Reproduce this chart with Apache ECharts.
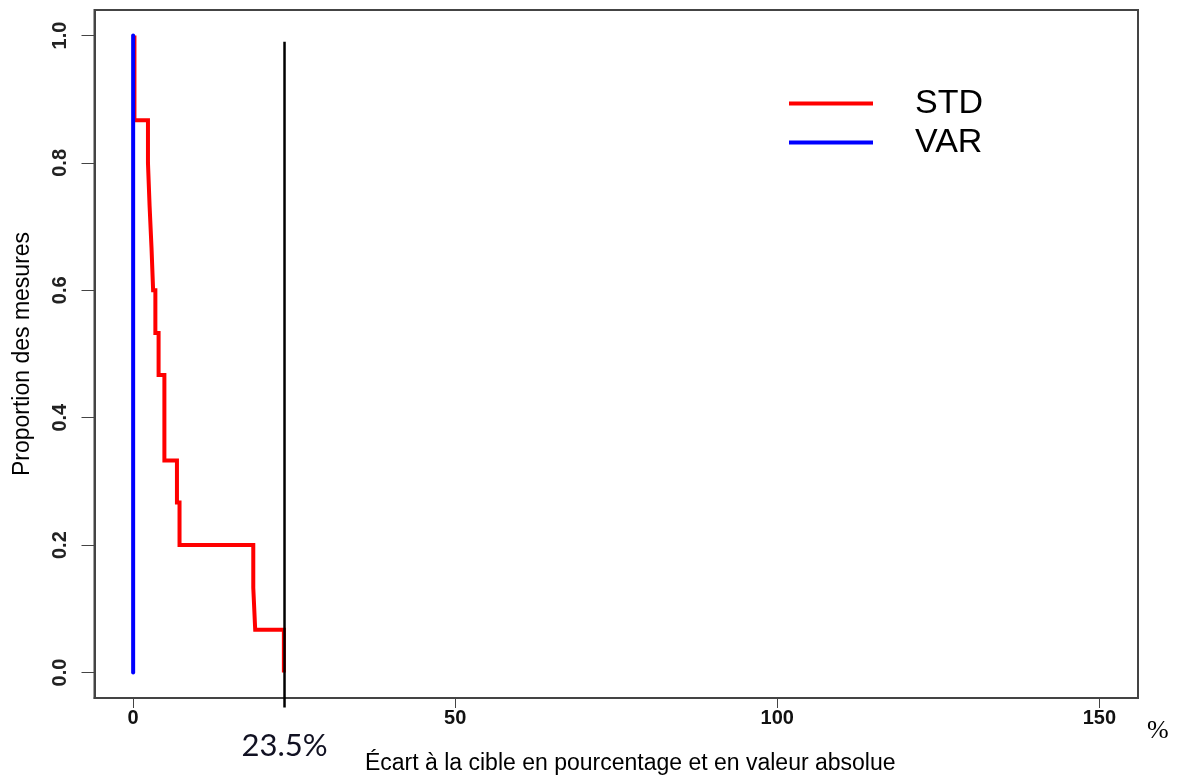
<!DOCTYPE html>
<html>
<head>
<meta charset="utf-8">
<script src="https://cdn.jsdelivr.net/npm/echarts@6/dist/echarts.min.js"></script>
<style>
  html, body { margin: 0; padding: 0; background: #fff; }
  #chart { width: 1179px; height: 777px; }
</style>
</head>
<body>
<div id="chart"></div>
<script>
// ---- data ----
const xTicks = [0, 50, 100, 150];
const yTicks = [0, 0.2, 0.4, 0.6, 0.8, 1.0];
const seriesNames = ['STD', 'VAR'];

// STD: survival curve (proportion of measures whose deviation exceeds x)
const stdStartLevel = 1.0;
const stdThresholds = [0.2, 2.3, 2.55, 2.85, 3.1, 3.45, 3.95, 4.85, 6.8, 7.2, 18.65, 18.95, 23.4];
const stdProportions = [0.867, 0.8, 0.733, 0.667, 0.6, 0.533, 0.467, 0.333, 0.267, 0.2, 0.133, 0.067, 0];

// VAR: all measures at 0 deviation
const varStartLevel = 1.0;
const varThresholds = [0];
const varProportions = [0];

// vertical reference line at the cut-off value
const cutoffValue = 23.5;
const cutoffSpan = [0.99, -0.055];
const cutoffLabel = '23.5%';

const xAxisTitle = 'Écart à la cible en pourcentage et en valeur absolue';
const yAxisTitle = 'Proportion des mesures';
const unitLabel = '%';

// ---- build step data ----
function stepData(startLevel, thresholds, proportions) {
  const pts = [[thresholds[0], startLevel]];
  thresholds.forEach((t, i) => pts.push([t, proportions[i]]));
  return pts;
}

const chart = echarts.init(document.getElementById('chart'));
const frameColor = '#444';
const sans = 'Liberation Sans, Arial, sans-serif';

chart.setOption({
  animation: false,
  backgroundColor: '#ffffff',
  grid: {
    left: 94.5, right: 41, top: 10, bottom: 79,
    outerBoundsMode: 'none',
    show: true, borderColor: frameColor, borderWidth: 2
  },
  legend: {
    data: seriesNames,
    orient: 'vertical',
    left: 789, top: 84,
    padding: 0,
    itemGap: 0,
    itemWidth: 84, itemHeight: 4,
    icon: 'rect',
    textStyle: {
      fontFamily: sans,
      fontSize: 34, color: '#000',
      lineHeight: 32,
      padding: [7, 0, 0, 37]
    }
  },
  xAxis: {
    type: 'value',
    min: -6, max: 156,
    splitLine: { show: false },
    axisLine: { show: true, onZero: false, lineStyle: { color: frameColor, width: 2 } },
    axisTick: { show: true, customValues: xTicks, length: 10 },
    axisLabel: {
      customValues: xTicks,
      margin: 10,
      fontFamily: sans,
      fontSize: 20, fontWeight: 'bold', color: '#111'
    },
    name: xAxisTitle,
    nameLocation: 'middle',
    nameGap: 54,
    nameTextStyle: {
      fontFamily: sans,
      fontSize: 23, color: '#000',
      padding: [0, 0, 0, 28]
    }
  },
  yAxis: {
    type: 'value',
    min: -0.04, max: 1.04,
    splitLine: { show: false },
    axisLine: { show: true, onZero: false, lineStyle: { color: frameColor, width: 2 } },
    axisTick: { show: true, customValues: yTicks, length: 13 },
    axisLabel: {
      customValues: yTicks,
      rotate: 90,
      margin: 24,
      formatter: v => v.toFixed(1),
      fontFamily: sans,
      fontSize: 20, fontWeight: 'bold', color: '#222'
    },
    name: yAxisTitle,
    nameLocation: 'middle',
    nameRotate: 90,
    nameGap: 60,
    nameTextStyle: {
      fontFamily: sans,
      fontSize: 23, color: '#000'
    }
  },
  graphic: [{
    type: 'text',
    left: 1147, top: 718,
    style: {
      text: unitLabel,
      font: '26px "Liberation Serif", "Times New Roman", serif',
      fill: '#000'
    }
  }],
  series: [
    {
      name: seriesNames[0],
      type: 'line',
      step: 'end',
      data: stepData(stdStartLevel, stdThresholds, stdProportions),
      showSymbol: false, symbol: 'none',
      lineStyle: { color: '#ff0000', width: 4, join: 'miter', cap: 'butt' },
      itemStyle: { color: '#ff0000' },
      z: 3
    },
    {
      name: seriesNames[1],
      type: 'line',
      step: 'end',
      data: stepData(varStartLevel, varThresholds, varProportions),
      showSymbol: false, symbol: 'none',
      lineStyle: { color: '#0000ff', width: 4, cap: 'round' },
      itemStyle: { color: '#0000ff' },
      z: 4
    },
    {
      name: 'cutoff',
      type: 'line',
      clip: false,
      symbol: 'circle',
      symbolSize: 0,
      showSymbol: true,
      data: [
        { value: [cutoffValue, cutoffSpan[0]] },
        {
          value: [cutoffValue, cutoffSpan[1]],
          label: {
            show: true, position: 'bottom', distance: 23,
            formatter: cutoffLabel,
            fontFamily: 'Lato, "Open Sans", sans-serif',
            fontSize: 31, color: '#111122'
          }
        }
      ],
      lineStyle: { color: '#000', width: 2.5 },
      itemStyle: { color: '#000' },
      z: 5
    }
  ]
});
</script>
</body>
</html>
